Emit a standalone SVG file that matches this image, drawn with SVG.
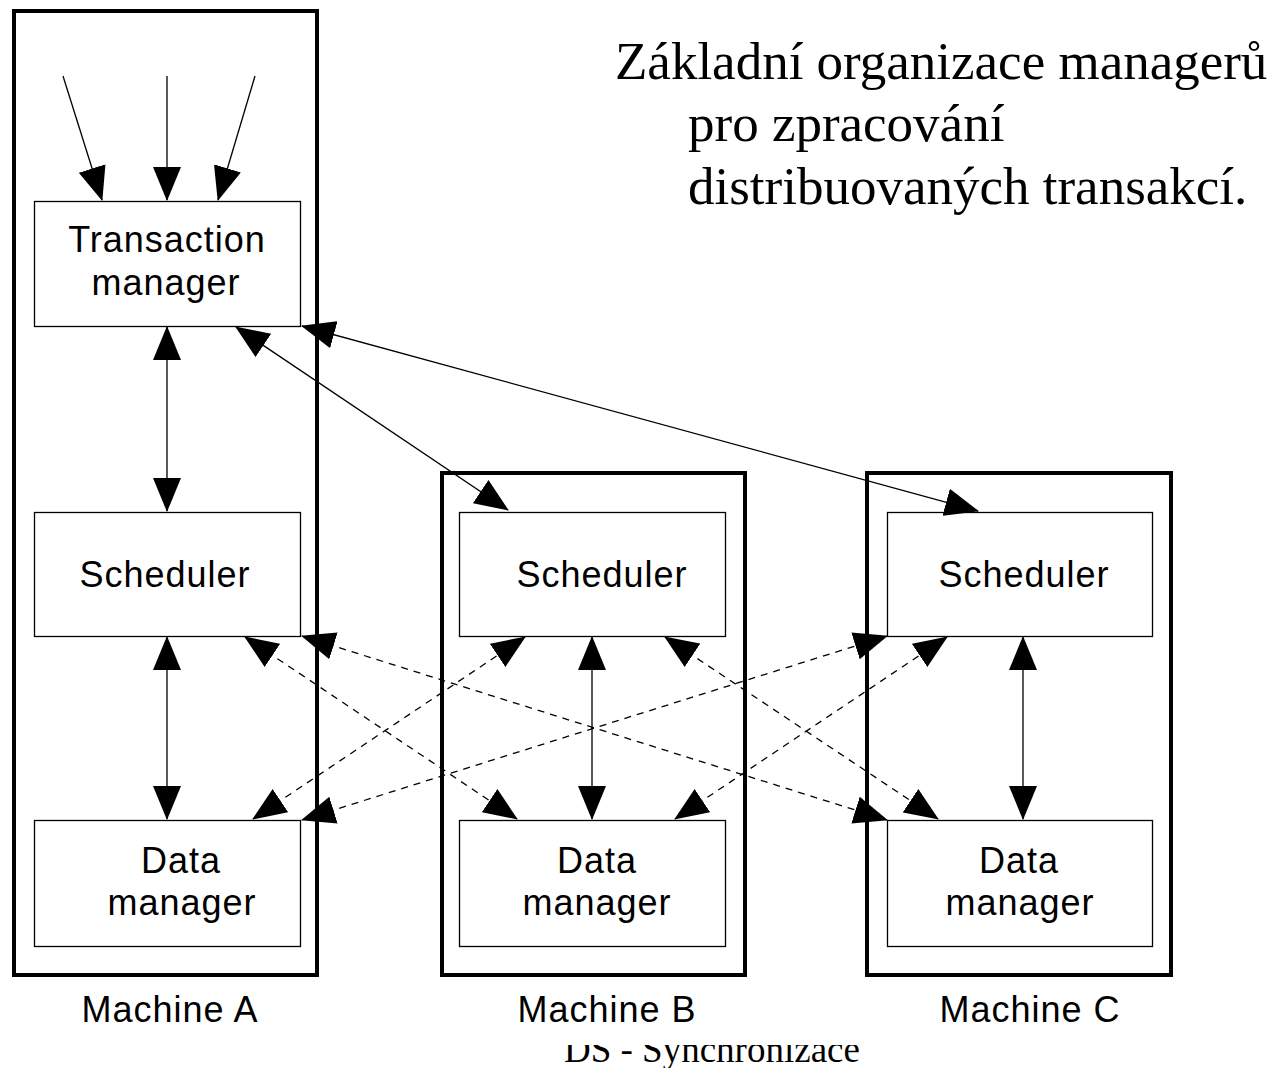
<svg xmlns="http://www.w3.org/2000/svg" width="1278" height="1068" viewBox="0 0 1278 1068">
<style>
.machine{fill:none;stroke:#000;stroke-width:4}
.node{fill:#fff;stroke:#000;stroke-width:1.3}
.lbl{font-family:"Liberation Sans",Arial,sans-serif;font-size:36px;letter-spacing:1px;fill:#000;text-anchor:middle}
.title{font-family:"Liberation Serif","Times New Roman",serif;font-size:53px;fill:#000}
.foot{font-family:"Liberation Serif","Times New Roman",serif;font-size:37px;fill:#000}
.c{fill:none;stroke:#000;stroke-width:1.3}
.bi{marker-start:url(#ah);marker-end:url(#ah)}
.one{marker-end:url(#ah)}
.dash{stroke-dasharray:7 6}
</style>
<defs>
<marker id="ah" viewBox="0 0 34 28" refX="33" refY="14" markerWidth="34" markerHeight="28" markerUnits="userSpaceOnUse" orient="auto-start-reverse">
<path d="M0,0 L34,14 L0,28 Z" fill="#000" stroke="none"/>
</marker>
<clipPath id="footclip"><rect x="0" y="1045" width="1278" height="30"/></clipPath>
</defs>
<rect width="1278" height="1068" fill="#fff"/>

<g id="machine-a">
<rect class="machine" x="14" y="11" width="303" height="964"/>
<text class="lbl" x="170" y="1022">Machine A</text>
</g>
<g id="machine-b">
<rect class="machine" x="442" y="473" width="303" height="502"/>
<text class="lbl" x="607" y="1022">Machine B</text>
</g>
<g id="machine-c">
<rect class="machine" x="867" y="473" width="304" height="502"/>
<text class="lbl" x="1030" y="1022">Machine C</text>
</g>

<g id="transaction-manager">
<rect class="node" x="34.5" y="201.5" width="266" height="125"/>
<text class="lbl" x="167" y="252">Transaction</text>
<text class="lbl" x="166" y="295">manager</text>
</g>
<g id="scheduler-a">
<rect class="node" x="34.5" y="512.5" width="266" height="124"/>
<text class="lbl" x="165" y="587">Scheduler</text>
</g>
<g id="data-manager-a">
<rect class="node" x="34.5" y="820.5" width="266" height="126"/>
<text class="lbl" x="181" y="873">Data</text>
<text class="lbl" x="182" y="915">manager</text>
</g>
<g id="scheduler-b">
<rect class="node" x="459.5" y="512.5" width="266" height="124"/>
<text class="lbl" x="602" y="587">Scheduler</text>
</g>
<g id="data-manager-b">
<rect class="node" x="459.5" y="820.5" width="266" height="126"/>
<text class="lbl" x="597" y="873">Data</text>
<text class="lbl" x="597" y="915">manager</text>
</g>
<g id="scheduler-c">
<rect class="node" x="887.5" y="512.5" width="265" height="124"/>
<text class="lbl" x="1024" y="587">Scheduler</text>
</g>
<g id="data-manager-c">
<rect class="node" x="887.5" y="820.5" width="265" height="126"/>
<text class="lbl" x="1019" y="873">Data</text>
<text class="lbl" x="1020" y="915">manager</text>
</g>

<g id="connectors">
<line class="c one" x1="63" y1="76" x2="102" y2="200"/>
<line class="c one" x1="167" y1="76" x2="167" y2="200"/>
<line class="c one" x1="255" y1="76" x2="218" y2="200"/>
<line class="c bi" x1="167" y1="327" x2="167" y2="511"/>
<line class="c bi" x1="167" y1="637" x2="167" y2="819"/>
<line class="c bi" x1="592" y1="637" x2="592" y2="819"/>
<line class="c bi" x1="1023" y1="637" x2="1023" y2="819"/>
<line class="c bi" x1="236" y1="327" x2="508" y2="510"/>
<line class="c bi" x1="302" y1="326" x2="978" y2="511"/>
<line class="c bi dash" x1="245" y1="637" x2="517" y2="819"/>
<line class="c bi dash" x1="302" y1="636" x2="887" y2="820"/>
<line class="c bi dash" x1="253" y1="819" x2="525" y2="637"/>
<line class="c bi dash" x1="302" y1="820" x2="887" y2="636"/>
<line class="c bi dash" x1="665" y1="637" x2="938" y2="819"/>
<line class="c bi dash" x1="675" y1="819" x2="947" y2="637"/>
</g>

<g id="title">
<text class="title" x="615" y="79">Základní organizace managerů</text>
<text class="title" x="688" y="141">pro zpracování</text>
<text class="title" x="688" y="204">distribuovaných transakcí.</text>
</g>
<g id="footer" clip-path="url(#footclip)">
<text class="foot" x="564" y="1062">DS - Synchronizace</text>
</g>
</svg>
